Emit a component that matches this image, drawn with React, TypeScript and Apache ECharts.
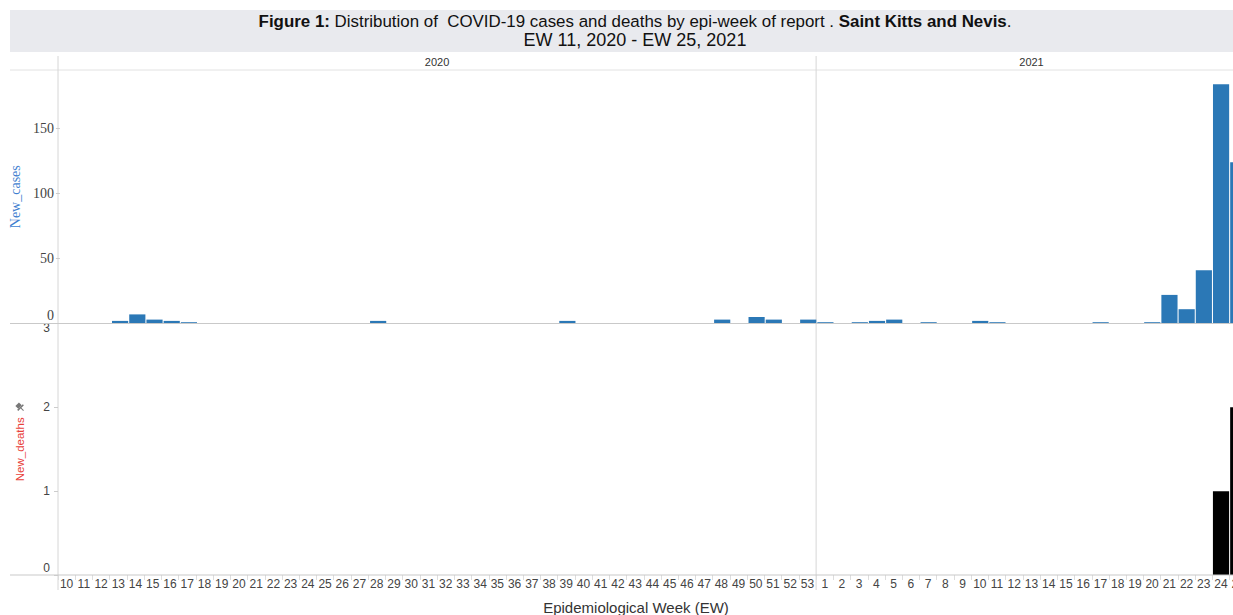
import React, { useEffect, useRef } from "react";
import * as echarts from "echarts";

// Epidemiological weeks shown on the x axis
const weeks2020 = ["10","11","12","13","14","15","16","17","18","19","20","21","22","23","24","25","26","27","28","29","30","31","32","33","34","35","36","37","38","39","40","41","42","43","44","45","46","47","48","49","50","51","52","53"];
const weeks2021 = ["1","2","3","4","5","6","7","8","9","10","11","12","13","14","15","16","17","18","19","20","21","22","23","24","25"];

// New cases by week
const cases2020 = [0,0,0,2,7,3,2,1,0,0,0,0,0,0,0,0,0,0,2,0,0,0,0,0,0,0,0,0,0,2,0,0,0,0,0,0,0,0,3,0,5,3,0,3];
const cases2021 = [1,0,1,2,3,0,1,0,0,2,1,0,0,0,0,0,1,0,0,1,22,11,41,184,124];

// New deaths by week
const deaths2020 = [0,0,0,0,0,0,0,0,0,0,0,0,0,0,0,0,0,0,0,0,0,0,0,0,0,0,0,0,0,0,0,0,0,0,0,0,0,0,0,0,0,0,0,0];
const deaths2021 = [0,0,0,0,0,0,0,0,0,0,0,0,0,0,0,0,0,0,0,0,0,0,0,1,2];

const casesTicks = [0, 50, 100, 150];
const deathsTicks = [0, 1, 2, 3];

const categories = [
  ...weeks2020.map((w) => `2020-${w}`),
  ...weeks2021.map((w) => `2021-${w}`),
];
const casesData = [...cases2020, ...cases2021];
const deathsData = [...deaths2020, ...deaths2021];

const SANS = "'Liberation Sans', Arial, sans-serif";
const SERIF = "'Liberation Serif', 'Times New Roman', serif";
const LINE = "#d6d6d6";

export default function App() {
  const ref = useRef<HTMLDivElement>(null);

  useEffect(() => {
    if (!ref.current) return;
    const chart = echarts.init(ref.current, undefined, { renderer: "svg" });
    const left = 58;
    const catW = 17.23;
    const gridW = categories.length * catW;
    const splitX = left + weeks2020.length * catW;

    const option: any = {
      animation: false,
      backgroundColor: "#ffffff",
      grid: [
        { left, top: 70, width: gridW, height: 253.5 },
        { left, top: 323.5, width: gridW, height: 251.5 },
      ],
      xAxis: [
        {
          type: "category",
          gridIndex: 0,
          data: categories,
          axisLine: { show: false },
          axisTick: { show: false },
          axisLabel: { show: false },
        },
        {
          type: "category",
          gridIndex: 1,
          data: categories,
          axisLine: { show: false },
          axisTick: { show: true, interval: 0, length: 5, lineStyle: { color: "#dddddd" } },
          axisLabel: {
            interval: 0,
            margin: 3,
            fontSize: 12,
            color: "#444444",
            fontFamily: SANS,
            formatter: (v: string) => v.split("-")[1],
          },
        },
      ],
      yAxis: [
        {
          type: "value",
          gridIndex: 0,
          min: casesTicks[0],
          max: 195,
          interval: casesTicks[1] - casesTicks[0],
          name: "New_cases",
          nameLocation: "middle",
          nameGap: 31,
          nameTextStyle: { color: "#3f7fd0", fontFamily: SERIF, fontSize: 14 },
          axisLine: { show: false },
          axisTick: { show: true, length: 4, lineStyle: { color: "#cccccc" } },
          splitLine: { show: false },
          axisLabel: {
            showMaxLabel: false,
            margin: 6,
            fontSize: 14,
            color: "#444444",
            fontFamily: SERIF,
            formatter: (v: number) => (v === casesTicks[0] ? `{lo|${v}}` : `${v}`),
            rich: { lo: { padding: [0, 0, 16, 0] } },
          },
        },
        {
          type: "value",
          gridIndex: 1,
          min: deathsTicks[0],
          max: deathsTicks[deathsTicks.length - 1],
          interval: deathsTicks[1] - deathsTicks[0],
          name: "New_deaths",
          nameLocation: "middle",
          nameGap: 32,
          nameTextStyle: { color: "#e8403a", fontFamily: SANS, fontSize: 11.5 },
          axisLine: { show: false },
          axisTick: { show: true, length: 4, lineStyle: { color: "#cccccc" } },
          splitLine: { show: false },
          axisLabel: {
            margin: 8,
            fontSize: 12,
            color: "#444444",
            fontFamily: SANS,
            formatter: (v: number) =>
              v === deathsTicks[0]
                ? `{lo|${v}}`
                : v === deathsTicks[deathsTicks.length - 1]
                ? `{hi|${v}}`
                : `${v}`,
            rich: { lo: { padding: [0, 0, 14, 0] }, hi: { padding: [9, 0, 0, 0] } },
          },
        },
      ],
      series: [
        {
          type: "bar",
          name: "New_cases",
          xAxisIndex: 0,
          yAxisIndex: 0,
          data: casesData,
          barCategoryGap: "6%",
          itemStyle: { color: "#2b78b6" },
        },
        {
          type: "bar",
          name: "New_deaths",
          xAxisIndex: 1,
          yAxisIndex: 1,
          data: deathsData,
          barCategoryGap: "6%",
          itemStyle: { color: "#000000" },
        },
      ],
      graphic: [
        { type: "rect", silent: true, z: -10, shape: { x: 10, y: 10, width: 1290, height: 42 }, style: { fill: "#e9eaee" } },
        {
          type: "text",
          x: 635,
          y: 21,
          style: {
            text: "{b|Figure 1:} Distribution of  COVID-19 cases and deaths by epi-week of report . {b|Saint Kitts and Nevis}.",
            rich: { b: { fontWeight: "bold", fontSize: 16.9, fontFamily: SANS, fill: "#111111" } },
            fontSize: 16.9,
            fontFamily: SANS,
            fill: "#111111",
            align: "center",
            verticalAlign: "middle",
          },
        },
        {
          type: "text",
          x: 635,
          y: 40,
          style: {
            text: "EW 11, 2020 - EW 25, 2021",
            fontSize: 18,
            fontFamily: SANS,
            fill: "#111111",
            align: "center",
            verticalAlign: "middle",
          },
        },
        { type: "text", x: (left + splitX) / 2, y: 62, style: { text: "2020", fontSize: 11, fontFamily: SANS, fill: "#333333", align: "center", verticalAlign: "middle" } },
        { type: "text", x: (splitX + left + gridW) / 2, y: 62, style: { text: "2021", fontSize: 11, fontFamily: SANS, fill: "#333333", align: "center", verticalAlign: "middle" } },
        { type: "line", silent: true, shape: { x1: 10, y1: 70, x2: 1300, y2: 70 }, style: { stroke: "#e2e2e2", lineWidth: 1 } },
        { type: "line", silent: true, z: 10, shape: { x1: 10, y1: 323.5, x2: 1300, y2: 323.5 }, style: { stroke: "#c9c9c9", lineWidth: 1 } },
        { type: "line", silent: true, z: 10, shape: { x1: 10, y1: 575, x2: 1300, y2: 575 }, style: { stroke: "#c9c9c9", lineWidth: 1 } },
        { type: "line", silent: true, shape: { x1: left, y1: 56, x2: left, y2: 590 }, style: { stroke: LINE, lineWidth: 1 } },
        { type: "line", silent: true, shape: { x1: splitX, y1: 56, x2: splitX, y2: 590 }, style: { stroke: LINE, lineWidth: 1 } },
        {
          type: "group",
          x: 20,
          y: 407,
          rotation: Math.PI / 4,
          children: [
            { type: "rect", shape: { x: -2.5, y: -4, width: 5, height: 4 }, style: { fill: "#777777" } },
            { type: "rect", shape: { x: -4, y: 0, width: 8, height: 1.5 }, style: { fill: "#777777" } },
            { type: "line", shape: { x1: 0, y1: 1.5, x2: 0, y2: 5 }, style: { stroke: "#777777", lineWidth: 1 } },
          ],
        },
        {
          type: "text",
          x: 636,
          y: 607,
          style: { text: "Epidemiological Week (EW)", fontSize: 15, fontFamily: SANS, fill: "#333333", align: "center", verticalAlign: "middle" },
        },
      ],
    };
    chart.setOption(option);
    return () => chart.dispose();
  }, []);

  return (
    <div style={{ position: "fixed", left: 0, top: 0, width: 1233, height: 615, overflow: "hidden", background: "#ffffff" }}>
      <div ref={ref} style={{ position: "absolute", left: 0, top: 0, width: 1300, height: 615 }} />
    </div>
  );
}
